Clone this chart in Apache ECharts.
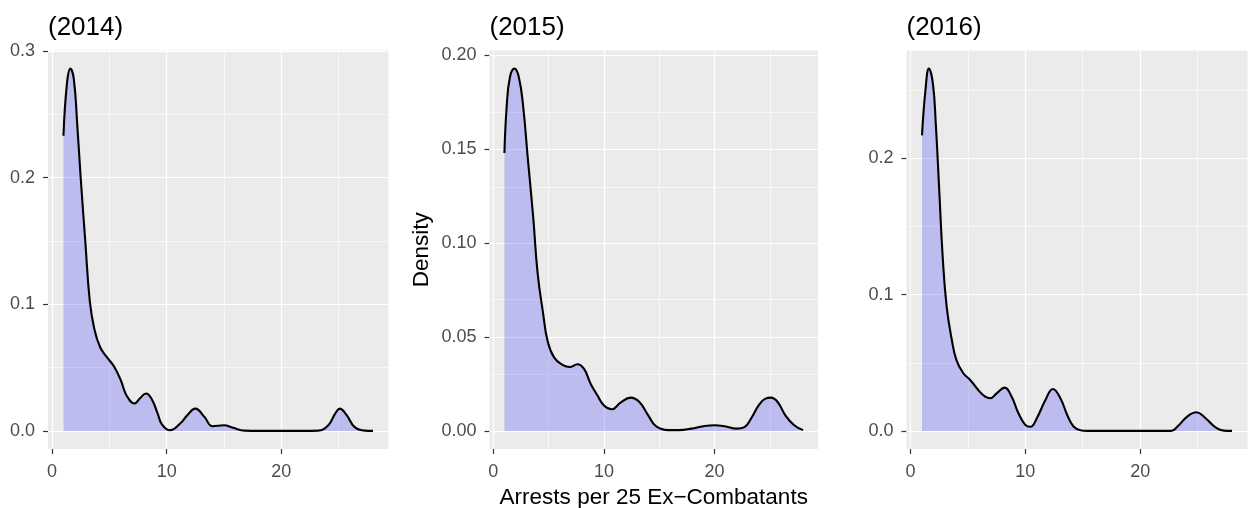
<!DOCTYPE html>
<html>
<head>
<meta charset="utf-8">
<script src="https://cdn.jsdelivr.net/npm/echarts@6/dist/echarts.min.js"></script>
<style>
html,body{margin:0;padding:0;background:#ffffff;}
#chart{width:1248px;height:508px;}
</style>
</head>
<body>
<div id="chart"></div>
<script>
// ---- data ----
const panelTitles = ['(2014)', '(2015)', '(2016)'];
const xTitle = 'Arrests per 25 Ex\u2212Combatants';
const yTitle = 'Density';

const x2014 = [1, 1.3, 1.6, 1.9, 2.2, 2.5, 2.9, 3.3, 3.7, 4.2, 4.8, 5.4, 6.0, 6.5, 7.2, 7.7, 8.2, 8.7, 9.2, 9.6, 10.3, 11.2, 11.8, 12.5, 13.3, 14.0, 15.0, 15.8, 16.8, 18, 20, 22, 23.2, 24.1, 24.7, 25.1, 25.7, 26.4, 27.3, 28];
const d2014 = [0.233, 0.274, 0.286, 0.278, 0.242, 0.200, 0.150, 0.102, 0.080, 0.066, 0.058, 0.051, 0.040, 0.028, 0.0216, 0.026, 0.0295, 0.025, 0.014, 0.005, 0.0005, 0.006, 0.0124, 0.0176, 0.011, 0.0037, 0.0045, 0.0024, 0.0002, 0, 0, 0, 0.0002, 0.0045, 0.0137, 0.0176, 0.0124, 0.003, 0.0002, 0];

const x2015 = [1, 1.2, 1.5, 1.9, 2.3, 2.7, 3.1, 3.6, 4.0, 4.5, 4.9, 5.5, 6.3, 6.9, 7.6, 8.2, 8.8, 9.4, 10.0, 10.7, 11.5, 12.4, 13.2, 14.0, 14.7, 15.8, 16.8, 17.9, 19.0, 20.0, 20.9, 22.0, 22.7, 23.3, 24.0, 24.6, 25.1, 25.7, 26.4, 27.2, 28];
const d2015 = [0.148, 0.1725, 0.1885, 0.193, 0.1885, 0.1725, 0.146, 0.114, 0.084, 0.0625, 0.048, 0.039, 0.035, 0.034, 0.0355, 0.033, 0.025, 0.019, 0.0135, 0.0115, 0.015, 0.0177, 0.0154, 0.0083, 0.0025, 0.0004, 0.0004, 0.0012, 0.0025, 0.003, 0.0025, 0.0012, 0.002, 0.0066, 0.0137, 0.0172, 0.0177, 0.0154, 0.0083, 0.003, 0.0004];

const x2016 = [1, 1.3, 1.6, 1.95, 2.2, 2.5, 2.8, 3.15, 3.6, 4.0, 4.6, 5.2, 5.9, 6.5, 6.95, 7.5, 8.2, 8.8, 9.4, 10.0, 10.45, 11.0, 11.75, 12.4, 13.05, 13.65, 14.2, 14.8, 15.4, 18, 20, 22.7, 23.25, 24.1, 24.9, 25.7, 26.6, 27.3, 28];
const d2016 = [0.217, 0.25, 0.266, 0.255, 0.2256, 0.177, 0.128, 0.091, 0.0667, 0.052, 0.0423, 0.0374, 0.030, 0.0252, 0.024, 0.0276, 0.0318, 0.0252, 0.013, 0.0044, 0.003, 0.0093, 0.0227, 0.0308, 0.024, 0.0117, 0.0032, 0.0005, 0, 0, 0, 0, 0.0032, 0.0105, 0.0137, 0.0093, 0.0024, 0.0002, 0];

const xTicks = [0, 10, 20];
const xTickLabels = ['0', '10', '20'];
const xMinor = [5, 15, 25];

const yTicks2014 = [0, 0.1, 0.2, 0.3];
const yTickLabels2014 = ['0.0', '0.1', '0.2', '0.3'];
const yMinor2014 = [0.05, 0.15, 0.25];

const yTicks2015 = [0, 0.05, 0.10, 0.15, 0.20];
const yTickLabels2015 = ['0.00', '0.05', '0.10', '0.15', '0.20'];
const yMinor2015 = [0.025, 0.075, 0.125, 0.175];

const yTicks2016 = [0, 0.1, 0.2];
const yTickLabels2016 = ['0.0', '0.1', '0.2'];
const yMinor2016 = [0.05, 0.15, 0.25];

// ---- chart ----
const FONT = "'Liberation Sans', Arial, Helvetica, sans-serif";
const panels = [
  {title: panelTitles[0], xs: x2014, ys: d2014, yt: yTicks2014, yl: yTickLabels2014, ym: yMinor2014,
   grid: {left: 48, top: 50.5, width: 340.5, height: 398.5}},
  {title: panelTitles[1], xs: x2015, ys: d2015, yt: yTicks2015, yl: yTickLabels2015, ym: yMinor2015,
   grid: {left: 489.5, top: 50.5, width: 328.5, height: 398.5}},
  {title: panelTitles[2], xs: x2016, ys: d2016, yt: yTicks2016, yl: yTickLabels2016, ym: yMinor2016,
   grid: {left: 906.5, top: 50.5, width: 341, height: 398.5}}
];

function expand(lo, hi) { const r = hi - lo; return [lo - 0.05 * r, hi + 0.05 * r]; }

const option = {
  animation: false,
  backgroundColor: '#ffffff',
  title: [], grid: [], xAxis: [], yAxis: [], series: []
};

panels.forEach((p, i) => {
  const xr = expand(Math.min(...p.xs), Math.max(...p.xs));
  const yr = expand(0, Math.max(...p.ys));
  option.title.push({
    text: p.title, left: p.grid.left, top: 15, padding: 0,
    textStyle: {fontFamily: FONT, fontSize: 26, fontWeight: 'normal', color: '#000'}
  });
  option.grid.push(Object.assign({show: true, backgroundColor: '#EBEBEB', borderWidth: 0,
    containLabel: false, outerBoundsMode: 'none'}, p.grid));
  const tickStyle = {show: true, inside: false, length: 5, lineStyle: {color: '#333333', width: 1.2, opacity: 1}};
  const hiddenLine = {show: true, onZero: false, lineStyle: {color: 'rgba(0,0,0,0)', width: 0}};
  option.xAxis.push({
    type: 'value', gridIndex: i, min: xr[0], max: xr[1], position: 'bottom',
    axisLine: hiddenLine,
    axisTick: Object.assign({customValues: xTicks}, tickStyle),
    axisLabel: {customValues: xTicks, formatter: v => xTickLabels[xTicks.indexOf(v)],
      color: '#4D4D4D', fontSize: 18, fontFamily: FONT, margin: 14},
    splitLine: {show: false},
    name: i === 1 ? xTitle : '', nameLocation: 'middle', nameGap: 33,
    nameTextStyle: {fontFamily: FONT, fontSize: 22.5, color: '#000'}
  });
  option.yAxis.push({
    type: 'value', gridIndex: i, min: yr[0], max: yr[1], position: 'left',
    axisLine: hiddenLine,
    axisTick: Object.assign({customValues: p.yt}, tickStyle),
    axisLabel: {customValues: p.yt, formatter: v => p.yl[p.yt.indexOf(v)],
      color: '#4D4D4D', fontSize: 18, fontFamily: FONT, margin: 13},
    splitLine: {show: false},
    name: i === 1 ? yTitle : '', nameLocation: 'middle', nameGap: 56,
    nameTextStyle: {fontFamily: FONT, fontSize: 22.5, color: '#000'}
  });
  const major = {color: '#FFFFFF', width: 1.2, type: 'solid', opacity: 1};
  const minor = {color: '#FFFFFF', width: 0.6, type: 'solid', opacity: 1};
  const gridLines = [].concat(
    p.yt.map(v => ({yAxis: v, lineStyle: major})),
    p.ym.map(v => ({yAxis: v, lineStyle: minor})),
    xTicks.map(v => ({xAxis: v, lineStyle: major})),
    xMinor.map(v => ({xAxis: v, lineStyle: minor}))
  );
  option.series.push({
    type: 'line', xAxisIndex: i, yAxisIndex: i, z: 3,
    data: p.xs.map((x, k) => [x, p.ys[k]]),
    smooth: 0.45, symbol: 'none', showSymbol: false,
    lineStyle: {color: '#000000', width: 2.1},
    areaStyle: {color: '#0000FF', opacity: 0.2},
    emphasis: {disabled: true},
    markLine: {silent: true, z: 1, symbol: ['none', 'none'], animation: false,
      label: {show: false}, emphasis: {disabled: true}, data: gridLines}
  });
});

const chart = echarts.init(document.getElementById('chart'), null, {renderer: 'canvas'});
chart.setOption(option);
</script>
</body>
</html>
